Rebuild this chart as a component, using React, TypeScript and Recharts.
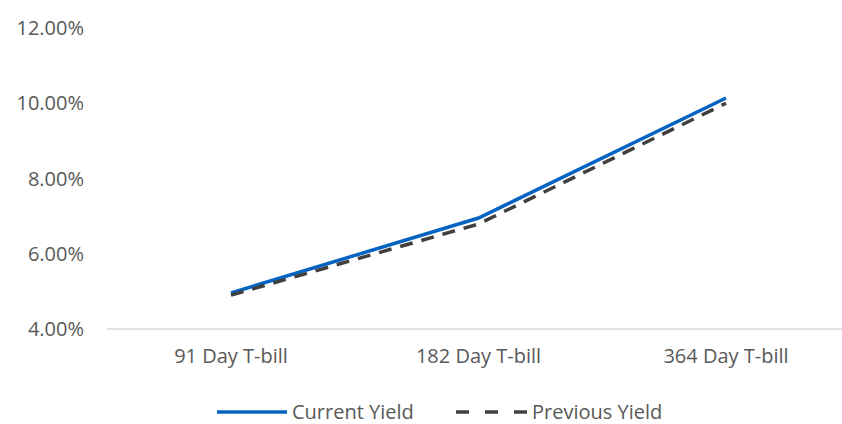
import React from "react";
import { LineChart, Line, XAxis, YAxis } from "recharts";

const categories = ["91 Day T-bill", "182 Day T-bill", "364 Day T-bill"];
const currentYield = [4.96, 6.95, 10.14];
const previousYield = [4.9, 6.79, 10.0];
const yTicks = [4, 6, 8, 10, 12];

const data = categories.map((name, i) => ({
    name,
    current: currentYield[i],
    previous: previousYield[i],
}));

const font = "'Open Sans', sans-serif";
const grey = "#595959";
const fs = 20;

function LegendBox() {
    return (
        <svg width={842} height={40} style={{ position: "absolute", left: 0, top: 392 }}>
            <line x1={217} x2={287} y1={20} y2={20} stroke="#0563C1" strokeWidth={3.5} />
            <text x={292} y={27} fontSize={fs} fill={grey} fontFamily={font}>Current Yield</text>
            <line x1={456} x2={527} y1={20} y2={20} stroke="#404040" strokeWidth={3.5} strokeDasharray="13 16" />
            <text x={532} y={27} fontSize={fs} fill={grey} fontFamily={font}>Previous Yield</text>
        </svg>
    );
}

export default function App() {
    return (
        <div style={{ position: "absolute", left: 0, top: 0, width: 842, height: 424, overflow: "hidden", background: "#fff" }}>
            <LineChart width={850} height={424} data={data} margin={{ top: 28, right: 0, bottom: 35, left: 0 }}>
                <XAxis
                    dataKey="name"
                    tickLine={false}
                    axisLine={{ stroke: "#d9d9d9", strokeWidth: 1.5 }}
                    tick={{ fill: grey, fontSize: fs, fontFamily: font }}
                    tickMargin={14}
                    height={60}
                    padding={{ left: 124, right: 124 }}
                />
                <YAxis
                    domain={[4, 12]}
                    ticks={yTicks}
                    axisLine={false}
                    tickLine={false}
                    width={107}
                    tickMargin={17}
                    tickFormatter={(v: number) => v.toFixed(2) + "%"}
                    tick={{ fill: grey, fontSize: fs, fontFamily: font }}
                />
                <Line type="linear" dataKey="current" stroke="#0563C1" strokeWidth={3.5} dot={false} isAnimationActive={false} />
                <Line type="linear" dataKey="previous" stroke="#404040" strokeWidth={3.5} strokeDasharray="13 9" dot={false} isAnimationActive={false} />
            </LineChart>
            <LegendBox />
        </div>
    );
}
